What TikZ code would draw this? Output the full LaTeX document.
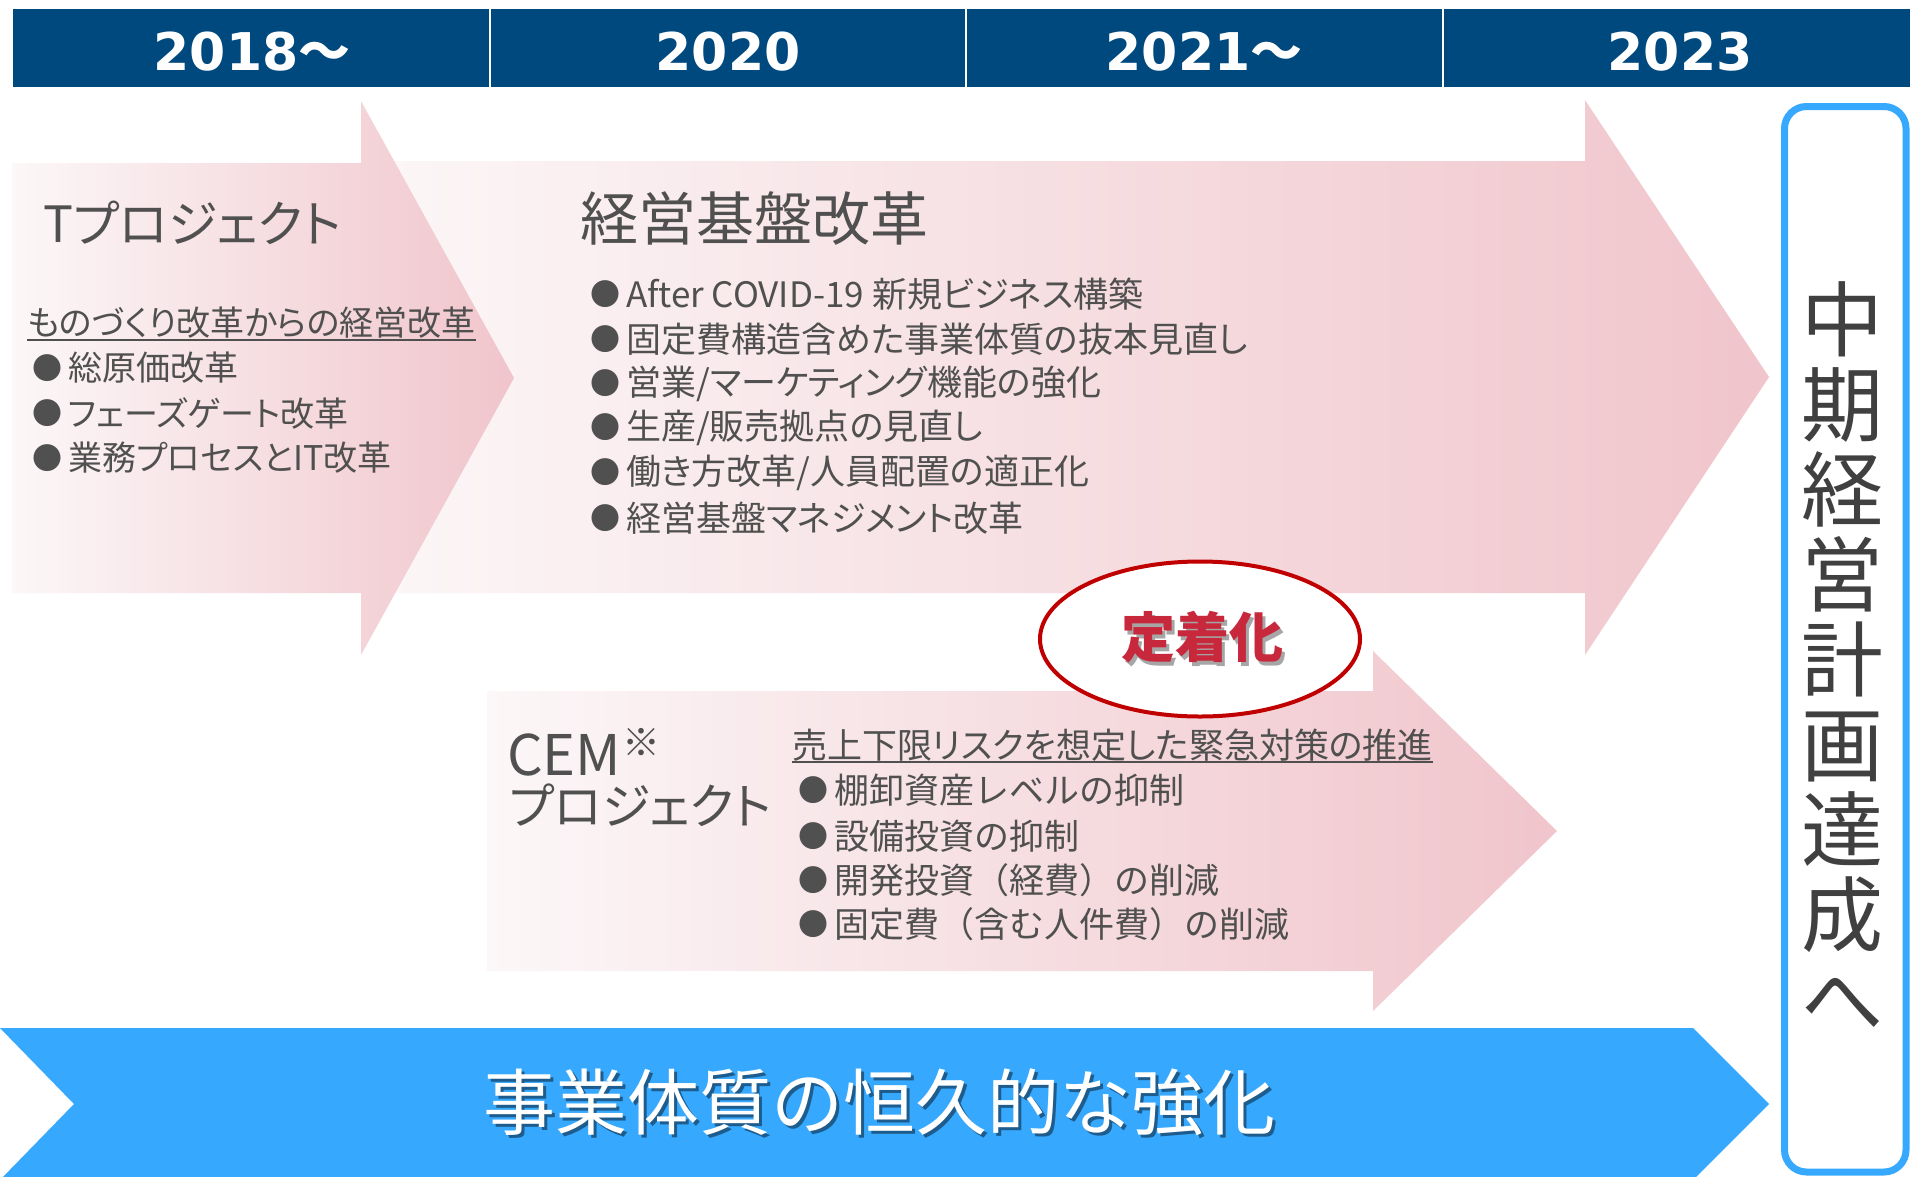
\documentclass[tikz,border=0pt]{standalone}
\usepackage{fontspec}
\setmainfont{Noto Sans CJK JP}
\newfontfamily\jp{Noto Sans CJK JP}
\newfontfamily\jpp[RawFeature=+palt]{Noto Sans CJK JP}
\newfontfamily\hdrfont{DejaVu Sans}
\usetikzlibrary{shapes.geometric}
\definecolor{hdrblue}{HTML}{00497F}
\definecolor{pinkR}{HTML}{F0C5CB}
\definecolor{pinkL}{HTML}{FCF7F8}
\definecolor{skyblue}{HTML}{36A9FF}
\definecolor{tgrey}{HTML}{505050}
\definecolor{vgrey}{HTML}{404040}
\definecolor{ellred}{HTML}{C00000}
\definecolor{jred}{HTML}{C8283C}
\newcommand{\bu}{\raisebox{1.5bp}{\jp\fontsize{30bp}{32bp}\selectfont ●}\hspace{6bp}}
\tikzset{
  hdrtext/.style={text=white, inner sep=0, font=\hdrfont\bfseries\fontsize{52bp}{58bp}\selectfont},
  bul/.style={anchor=west, inner sep=0, text=tgrey, font=\jpp\fontsize{35bp}{40bp}\selectfont},
  bulw/.style={anchor=west, inner sep=0, text=tgrey, font=\jp\fontsize{35bp}{40bp}\selectfont},
  ttl/.style={anchor=west, inner sep=0, text=tgrey, font=\jpp\fontsize{50bp}{56bp}\selectfont},
  uline/.style={line width=2bp, draw=tgrey},
  pinkarrow/.style={left color=pinkL, right color=pinkR}
}
\begin{document}
\begin{tikzpicture}[x=1bp,y=-1bp]
\useasboundingbox (0,0) rectangle (1910,1176);
\clip (0,0) rectangle (1910,1176);
\fill[white] (0,0) rectangle (1910,1176);

% header
\fill[hdrblue] (13,9) rectangle (1910,87);
\foreach \x in {490,966,1443} \draw[white, line width=2bp] (\x,9) -- (\x,87);
\node[hdrtext] (h1) at (252,52) {2018{\jp\bfseries 〜}};
\node[hdrtext] (h2) at (728,52) {2020};
\node[hdrtext] (h3) at (1204,52) {2021{\jp\bfseries 〜}};
\node[hdrtext] (h4) at (1680,52) {2023};

% arrows
\shade[pinkarrow] (361,161) -- (1585,161) -- (1585,100) -- (1769,377) -- (1585,655) -- (1585,593) -- (361,593) -- cycle;
\shade[pinkarrow] (12,163) -- (361,163) -- (361,101) -- (514,378) -- (361,655) -- (361,593) -- (12,593) -- cycle;
\shade[pinkarrow] (487,691) -- (1373,691) -- (1373,651) -- (1557,831) -- (1373,1011) -- (1373,971) -- (487,971) -- cycle;

% T project
\node[ttl] (tp) at (43,223) {Tプロジェクト};
\node[bul, font=\jpp\fontsize{34bp}{40bp}\selectfont] (tsub) at (27,323) {ものづくり改革からの経営改革};
\draw[uline] ([yshift=-1bp]tsub.south west) -- ([yshift=-1bp]tsub.south east);
\node[bul, font=\jpp\fontsize{34bp}{40bp}\selectfont] (t1) at (32,368) {\bu 総原価改革};
\node[bul, font=\jpp\fontsize{34bp}{40bp}\selectfont] (t2) at (32,413) {\bu フェーズゲート改革};
\node[bul, font=\jpp\fontsize{34bp}{40bp}\selectfont] (t3) at (32,458) {\bu 業務プロセスとIT改革};

% keiei kiban
\node[ttl, font=\jp\fontsize{58bp}{64bp}\selectfont] (kk) at (580,219) {経営基盤改革};
\node[bul] (k1) at (590,294) {\bu After COVID-19 新規ビジネス構築};
\node[bul] (k2) at (590,339) {\bu 固定費構造含めた事業体質の抜本見直し};
\node[bul] (k3) at (590,384) {\bu 営業/マーケティング機能の強化};
\node[bul] (k4) at (590,428) {\bu 生産/販売拠点の見直し};
\node[bul] (k5) at (590,473) {\bu 働き方改革/人員配置の適正化};
\node[bul] (k6) at (590,518) {\bu 経営基盤マネジメント改革};

% ellipse
\node[ellipse, draw=ellred, line width=4bp, fill=white, minimum width=320bp, minimum height=155bp, inner sep=0] (ell) at (1200,639) {};
\node[inner sep=0, text=black, opacity=0.35, font=\jp\bfseries\fontsize{54bp}{60bp}\selectfont] (teishs) at (1205,641) {定着化};
\node[inner sep=0, text=jred, font=\jp\bfseries\fontsize{54bp}{60bp}\selectfont] (teis) at (1202,637) {定着化};

% CEM
\node[ttl, font=\jp\fontsize{56bp}{60bp}\selectfont] (cem) at (507,755) {CEM};
\node[anchor=west, inner sep=0, text=tgrey, font=\jp\fontsize{38bp}{40bp}\selectfont] (kome) at ([xshift=1bp]cem.east |- 0,742) {※};
\node[ttl, font=\jpp\fontsize{49bp}{56bp}\selectfont] (cemp) at (509,805) {プロジェクト};
\node[bul] (csub) at (792,745) {売上下限リスクを想定した緊急対策の推進};
\draw[uline] ([yshift=-1bp]csub.south west) -- ([yshift=-1bp]csub.south east);
\node[bulw] (c1) at (798,790) {\bu 棚卸資産レベルの抑制};
\node[bulw] (c2) at (798,836) {\bu 設備投資の抑制};
\node[bulw] (c3) at (798,880) {\bu 開発投資（経費）の削減};
\node[bulw] (c4) at (798,924) {\bu 固定費（含む人件費）の削減};

% blue arrow
\fill[skyblue] (0,1028) -- (1693,1028) -- (1769,1104) -- (1693,1180) -- (0,1180) -- (74,1104) -- cycle;
\node[inner sep=0, text=black, opacity=0.45, font=\jp\fontsize{72bp}{78bp}\selectfont] (blues) at (882,1105) {事業体質の恒久的な強化};
\node[inner sep=0, text=white, font=\jp\fontsize{72bp}{78bp}\selectfont] (bluet) at (879,1102) {事業体質の恒久的な強化};

% right box
\draw[skyblue, line width=7bp, fill=white, rounded corners=22bp] (1784.5,106.5) rectangle (1906,1172);
\node[inner sep=0, text=vgrey, align=center, font=\jp\fontsize{82bp}{85bp}\selectfont] (vt) at (1842,656) {中\\期\\経\\営\\計\\画\\達\\成\\へ};
\end{tikzpicture}
\end{document}
